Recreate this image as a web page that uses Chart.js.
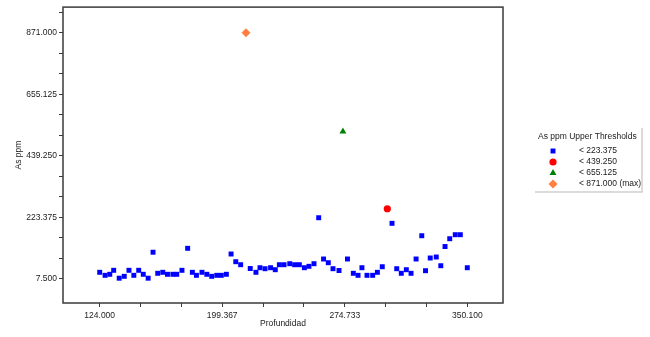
<!DOCTYPE html>
<html>
<head>
<meta charset="utf-8">
<script src="https://cdn.jsdelivr.net/npm/chart.js@4/dist/chart.umd.min.js"></script>
<style>
  html, body { margin: 0; padding: 0; background: #fff; }
  #wrap { width: 650px; height: 337px; }
</style>
</head>
<body>
<div id="wrap"><canvas id="chart"></canvas></div>
<script>
// As ppm by depth, split into threshold classes
const lowDepth = [124.0, 127.3, 130.2, 132.6, 136.0, 139.1, 142.0, 145.0, 148.0, 150.8,
  153.8, 156.8, 159.7, 162.8, 165.7, 169.0, 171.4, 174.6, 178.1, 181.0,
  183.5, 186.9, 189.9, 192.9, 196.0, 198.8, 201.9, 204.8, 207.7, 210.7,
  216.6, 220.1, 222.6, 225.7, 229.1, 232.0, 234.5, 237.4, 240.9, 243.9,
  246.8, 249.9, 252.7, 255.8, 258.7, 261.7, 264.6, 267.5, 271.2, 276.4,
  280.0, 282.9, 285.3, 288.4, 291.9, 294.8, 297.8, 303.8, 306.7, 309.5,
  312.6, 315.5, 318.6, 322.1, 324.4, 327.3, 331.0, 333.8, 336.4, 339.3,
  342.7, 345.8, 350.1];
const lowAs = [30.0, 19.4, 23.0, 37.0, 9.3, 15.9, 37.0, 19.4, 37.0, 23.0,
  9.3, 100.5, 26.5, 30.0, 23.0, 23.0, 23.0, 37.0, 114.2, 30.0,
  19.4, 30.0, 23.0, 15.9, 19.4, 19.4, 23.0, 94.2, 67.2, 56.6,
  43.3, 30.0, 46.1, 42.6, 46.1, 39.1, 56.6, 56.6, 60.2, 56.6,
  56.6, 46.1, 51.0, 60.2, 221.6, 76.7, 63.7, 42.6, 36.3, 76.7,
  26.5, 19.4, 46.1, 19.4, 19.4, 30.0, 49.6, 202.0, 42.6, 26.5,
  39.1, 26.5, 76.7, 158.4, 35.6, 80.2, 83.7, 53.1, 120.5, 147.9,
  162.0, 162.0, 46.1];
const midDepth = [300.9];
const midAs = [253.2];
const highDepth = [273.6];
const highAs = [524.0];
const maxDepth = [214.0];
const maxAs = [871.0];

const legendLabels = ['< 223.375', '< 439.250', '< 655.125', '< 871.000 (max)'];
const yMajorTicks = [7.5, 223.375, 439.25, 655.125, 871.0];
const xMajorTicks = [124.0, 199.367, 274.733, 350.1];

// majors plus two minor ticks between each pair
function withMinors(majors) {
  const out = [];
  for (let i = 0; i < majors.length; i++) {
    out.push({ value: majors[i], major: true });
    if (i < majors.length - 1) {
      const step = (majors[i + 1] - majors[i]) / 3;
      out.push({ value: majors[i] + step }, { value: majors[i] + 2 * step });
    }
  }
  return out;
}
const yTicks = withMinors(yMajorTicks);
const ySpan = (yMajorTicks[1] - yMajorTicks[0]) / 3;
yTicks.push({ value: yMajorTicks[yMajorTicks.length - 1] + ySpan });
const xTicks = withMinors(xMajorTicks);

const pts = (xs, ys) => xs.map((x, i) => ({ x: x, y: ys[i] }));
const FONT = 'Liberation Sans, Arial, sans-serif';

const frame = {
  id: 'frame',
  afterDatasetsDraw(chart) {
    const { ctx, chartArea: a } = chart;
    ctx.save();
    ctx.strokeStyle = '#3a3a3a';
    ctx.lineWidth = 1.5;
    ctx.strokeRect(a.left, a.top, a.right - a.left, a.bottom - a.top);
    ctx.restore();
  }
};

const sideLegend = {
  id: 'sideLegend',
  afterDraw(chart) {
    const ctx = chart.ctx;
    ctx.save();
    // shadow edge of the legend box
    ctx.strokeStyle = '#d0d0d0';
    ctx.lineWidth = 1.5;
    ctx.beginPath();
    ctx.moveTo(535, 192);
    ctx.lineTo(642, 192);
    ctx.lineTo(642, 128);
    ctx.stroke();

    ctx.fillStyle = '#222';
    ctx.font = '8.5px ' + FONT;
    ctx.textBaseline = 'middle';
    ctx.textAlign = 'left';
    ctx.fillText('As ppm Upper Thresholds', 538, 137);
    chart.data.datasets.forEach((ds, i) => {
      const y = 151 + i * 11;
      ctx.fillStyle = ds.backgroundColor;
      ctx.strokeStyle = ds.backgroundColor;
      Chart.helpers.drawPoint(ctx, {
        pointStyle: ds.pointStyle,
        radius: ds.pointRadius,
        borderWidth: 0,
        rotation: 0
      }, 553, y);
      ctx.fillStyle = '#222';
      ctx.fillText(legendLabels[i], 579, y);
    });
    ctx.restore();
  }
};

new Chart(document.getElementById('chart'), {
  type: 'scatter',
  data: {
    datasets: [
      { label: legendLabels[0], data: pts(lowDepth, lowAs), backgroundColor: '#0000ff',
        pointStyle: 'rect', pointRadius: 3.5, pointBorderWidth: 0 },
      { label: legendLabels[1], data: pts(midDepth, midAs), backgroundColor: '#ff0000',
        pointStyle: 'circle', pointRadius: 3.6, pointBorderWidth: 0 },
      { label: legendLabels[2], data: pts(highDepth, highAs), backgroundColor: '#008000',
        pointStyle: 'triangle', pointRadius: 4, pointBorderWidth: 0 },
      { label: legendLabels[3], data: pts(maxDepth, maxAs), backgroundColor: '#ff8040',
        pointStyle: 'rectRot', pointRadius: 4.5, pointBorderWidth: 0 }
    ]
  },
  options: {
    responsive: true,
    maintainAspectRatio: false,
    animation: false,
    layout: { padding: { top: 7, right: 147, left: 0, bottom: 0 } },
    plugins: { legend: { display: false }, tooltip: { enabled: false } },
    scales: {
      x: {
        min: 101.43,
        max: 372.06,
        afterBuildTicks: (s) => { s.ticks = xTicks.map(t => ({ value: t.value })); },
        afterFit: (s) => { s.height = 34; },
        ticks: {
          autoSkip: false,
          maxRotation: 0,
          padding: 4,
          color: '#222',
          font: { family: FONT, size: 8.5 },
          callback: (v) => xMajorTicks.some(m => Math.abs(m - v) < 1e-6) ? v.toFixed(3) : ''
        },
        grid: { drawOnChartArea: false, tickLength: 4, color: '#3a3a3a', lineWidth: 1 },
        border: { display: false },
        title: { display: true, text: 'Profundidad', color: '#222',
          font: { family: FONT, size: 8.5 }, padding: { top: 0, bottom: 8.5 } }
      },
      y: {
        min: -77.8,
        max: 961.2,
        afterBuildTicks: (s) => { s.ticks = yTicks.map(t => ({ value: t.value })); },
        afterFit: (s) => { s.width = 63; },
        ticks: {
          autoSkip: false,
          padding: 2,
          color: '#222',
          font: { family: FONT, size: 8.5 },
          callback: (v) => yMajorTicks.some(m => Math.abs(m - v) < 1e-6) ? v.toFixed(3) : ''
        },
        grid: { drawOnChartArea: false, tickLength: 4, color: '#3a3a3a', lineWidth: 1 },
        border: { display: false },
        title: { display: true, text: 'As ppm', color: '#222',
          font: { family: FONT, size: 8.5 }, padding: { top: 14, bottom: 0 } }
      }
    }
  },
  plugins: [frame, sideLegend]
});
</script>
</body>
</html>
